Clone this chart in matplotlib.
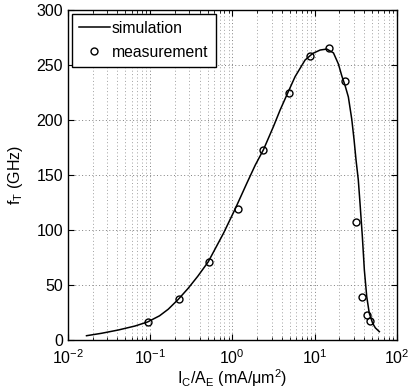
import matplotlib
matplotlib.use("Agg")
import matplotlib.pyplot as plt
from matplotlib.ticker import LogLocator, NullFormatter

plt.rcParams['font.family'] = ['Liberation Sans', 'DejaVu Sans']
plt.rcParams['mathtext.fontset'] = 'custom'
plt.rcParams['mathtext.rm'] = 'Liberation Sans'
plt.rcParams['mathtext.it'] = 'Liberation Sans'

# simulation curve
sim_x = [0.0168, 0.0256, 0.041, 0.0653, 0.093, 0.13, 0.166, 0.22, 0.29, 0.38, 0.508, 0.78, 1.08,
         1.50, 1.9, 2.39, 3.16, 3.81, 4.68, 5.80, 7.67, 9.5, 11.7, 14.1, 17.0,
         19.5, 21.5, 23.5, 25.8, 28.4, 30.3, 32.0, 34.1, 35.8, 38.2, 40.4, 43.2,
         46.4, 51.0, 55.0, 61.5]
sim_y = [3.9, 6.1, 9.1, 12.7, 16.4, 22.0, 28.0, 37.0, 47.0, 58.0, 71.0, 97.0, 119.0,
         142.5, 159.0, 173.0, 194.0, 209.0, 224.0, 239.4, 254.5, 260.5, 263.6, 264.5, 261.0,
         251.0, 240.0, 231.5, 221.0, 200.6, 181.8, 163.6, 145.5, 124.0, 94.0, 63.6, 39.4,
         24.2, 15.2, 11.0, 7.6]

# measurement points
meas_x = [0.094, 0.224, 0.518, 1.156, 2.39, 4.86, 8.84, 15.2, 23.5, 32.1, 38.3, 43.2, 47.4]
meas_y = [16, 37.6, 70.6, 119.4, 172.4, 224.2, 258.2, 265.2, 235.2, 107.6, 38.8, 22.4, 17.6]

fig = plt.figure(figsize=(4.09, 3.92), dpi=100)
ax = fig.add_axes([68/409, 1 - 340/392, (396.7-68)/409, 330/392])

ax.plot(sim_x, sim_y, color='black', lw=1.1, label='simulation', solid_joinstyle='round')
ax.plot(meas_x, meas_y, 'o', mfc='none', mec='black', ms=5, mew=1.0, label='measurement')

ax.set_xscale('log')
ax.set_xlim(1e-2, 1e2)
ax.set_ylim(0, 300)
ax.set_yticks([0, 50, 100, 150, 200, 250, 300])
ax.xaxis.set_major_locator(LogLocator(base=10, numticks=10))
ax.xaxis.set_minor_locator(LogLocator(base=10, subs=range(2, 10), numticks=20))
ax.xaxis.set_minor_formatter(NullFormatter())

ax.grid(True, which='major', axis='both', linestyle=(0, (1, 2.5)), color='#808080', lw=0.7)
ax.grid(True, which='minor', axis='x', linestyle=(0, (1, 2.5)), color='#a0a0a0', lw=0.7)
ax.set_axisbelow(True)

ax.tick_params(which='both', direction='in', top=True, right=True, labelsize=11.5)
ax.tick_params(which='major', length=4, width=0.8)
ax.tick_params(which='minor', length=2, width=0.6)
ax.tick_params(axis='x', pad=6)
for s in ax.spines.values():
    s.set_linewidth(1.0)

ax.set_ylabel(r'f$_\mathregular{T}$ (GHz)', fontsize=11.5, labelpad=8)
ax.set_xlabel(r'I$_\mathregular{C}$/A$_\mathregular{E}$ (mA/$\mu$m$^\mathregular{2}$)', fontsize=11.5, labelpad=0)

leg = ax.legend(loc='upper left', fontsize=11.3, fancybox=False, framealpha=1,
                edgecolor='black', borderaxespad=0.25, handlelength=1.95,
                borderpad=0.45, labelspacing=0.55, handletextpad=0.15)
leg.get_frame().set_linewidth(1.0)

fig.savefig('out.png', dpi=100)
